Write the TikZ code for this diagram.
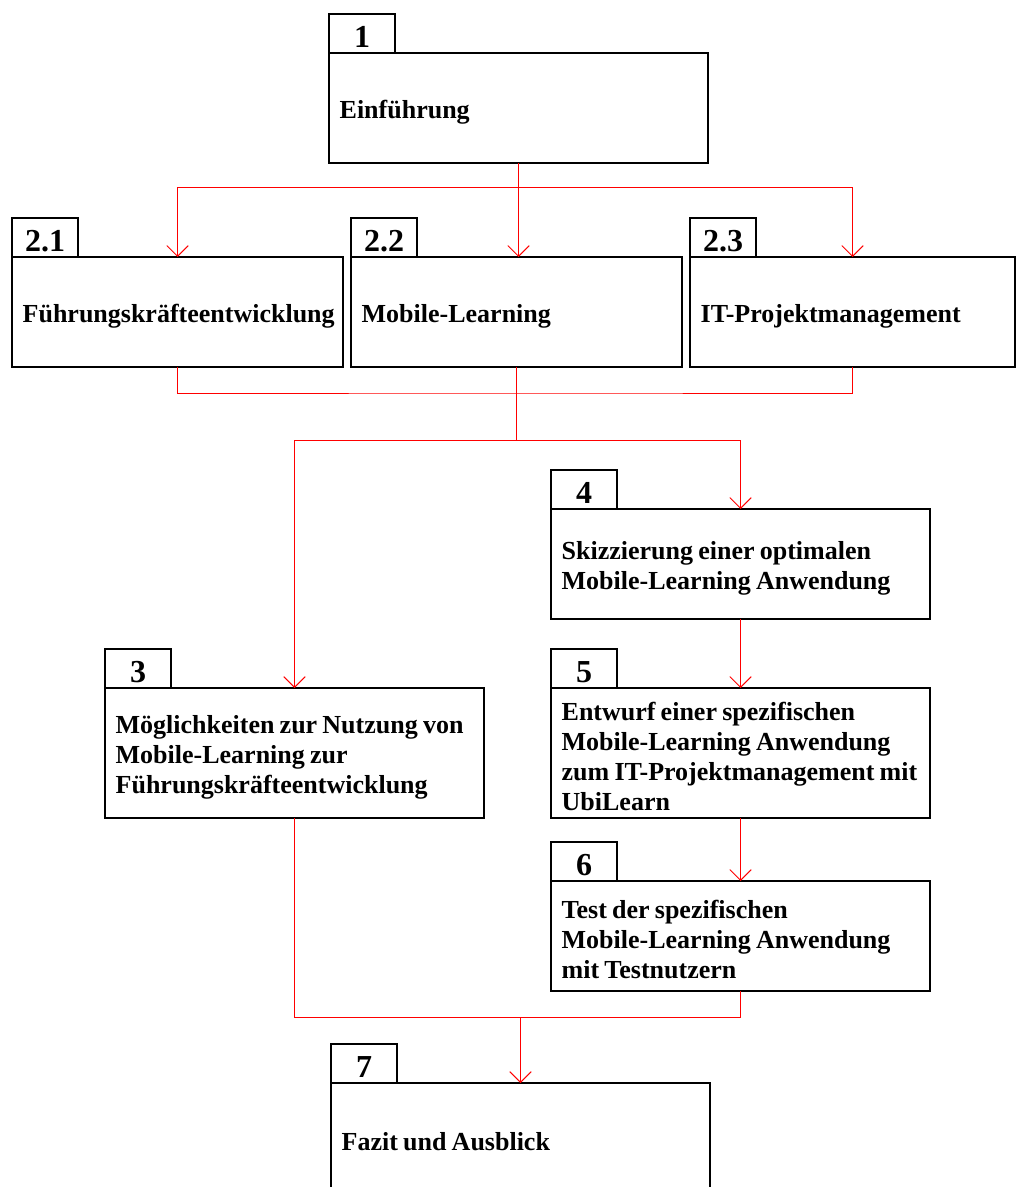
\documentclass[tikz,border=0pt]{standalone}
\usepackage{fontspec}
\setmainfont{Liberation Serif}
\usetikzlibrary{arrows.meta,positioning}
\hyphenpenalty=10000
\exhyphenpenalty=10000

\tikzset{
	kasten/.style={draw,line width=1pt,outer sep=0pt,anchor=north west,inner xsep=8pt,align=left,
		font=\bfseries\fontsize{19.5}{22.5}\selectfont,
		execute at begin node={\spaceskip=0.2em\relax\rule{0pt}{19.5pt}},
		text width=268.25pt,minimum height=82.5pt},
	schmal/.style={text width=232.25pt},
	hoch/.style={minimum height=97.5pt},
	reiter/.style={draw,line width=1pt,outer sep=0pt,anchor=south west,inner sep=0pt,
		minimum width=49.5pt,minimum height=29.25pt,text height=20.5pt,text depth=0pt,
		font=\bfseries\fontsize{24}{26}\selectfont},
	linie/.style={red,line width=0.75pt},
	pfeil/.style={linie,-{Straight Barb[length=8pt,width=16pt]}}
}

\begin{document}
\begin{tikzpicture}[x=0.75pt,y=-0.75pt]
	\clip (0,0) rectangle (1016,1187);
	% Kapitel
	\node[kasten] (k1) at (329,53) {Einführung};
	\node[kasten,schmal] (k21) at (12,257) {Führungskräfteentwicklung};
	\node[kasten,schmal] (k22) at (351,257) {Mobile-Learning};
	\node[kasten,text width=227.75pt] (k23) at (690,257) {IT-Projektmanagement};
	\node[kasten] (k4) at (551,509) {Skizzierung einer optimalen\\Mobile-Learning Anwendung};
	\node[kasten,hoch] (k3) at (105,688) {Möglichkeiten zur Nutzung von\\Mobile-Learning zur\\Führungskräfteentwicklung};
	\node[kasten,hoch] (k5) at (551,688) {Entwurf einer spezifischen\\Mobile-Learning Anwendung\\zum IT-Projektmanagement mit\\UbiLearn};
	\node[kasten] (k6) at (551,881) {Test der spezifischen\\Mobile-Learning Anwendung\\mit Testnutzern};
	\node[kasten] (k7) at (331,1083) {Fazit und Ausblick};
	% Nummern
	\foreach \k/\nr in {k1/1,k21/2.1,k22/2.2,k23/2.3,k3/3,k4/4,k5/5,k6/6,k7/7}
		\node[reiter] (r\k) at (\k.north west) {\nr};
	% Verbindungen
	\coordinate[below=18.75pt of k1.south] (v1);
	\coordinate[below=19.5pt of k22.south] (v2);
	\coordinate[below=54.75pt of k22.south] (v3);
	\coordinate (v4) at ([yshift=-19.5pt]k7.north |- k6.south);
	\draw[linie] (k1.south) -- (v1);
	\draw[pfeil] (v1) -| (k21.north);
	\draw[pfeil] (v1) -- (v1 |- k22.north);
	\draw[pfeil] (v1) -| (k23.north);
	\draw[linie] (k21.south) |- (v2) -| (k23.south);
	\draw[linie] (k22.south) -- (v3);
	\draw[pfeil] (v3) -| (k3.north);
	\draw[pfeil] (v3) -| (k4.north);
	\draw[pfeil] (k4.south) -- (k5.north);
	\draw[pfeil] (k5.south) -- (k6.north);
	\draw[linie] (k3.south) |- (v4) -| (k6.south);
	\draw[pfeil] (v4) -- (k7.north);
\end{tikzpicture}
\end{document}
